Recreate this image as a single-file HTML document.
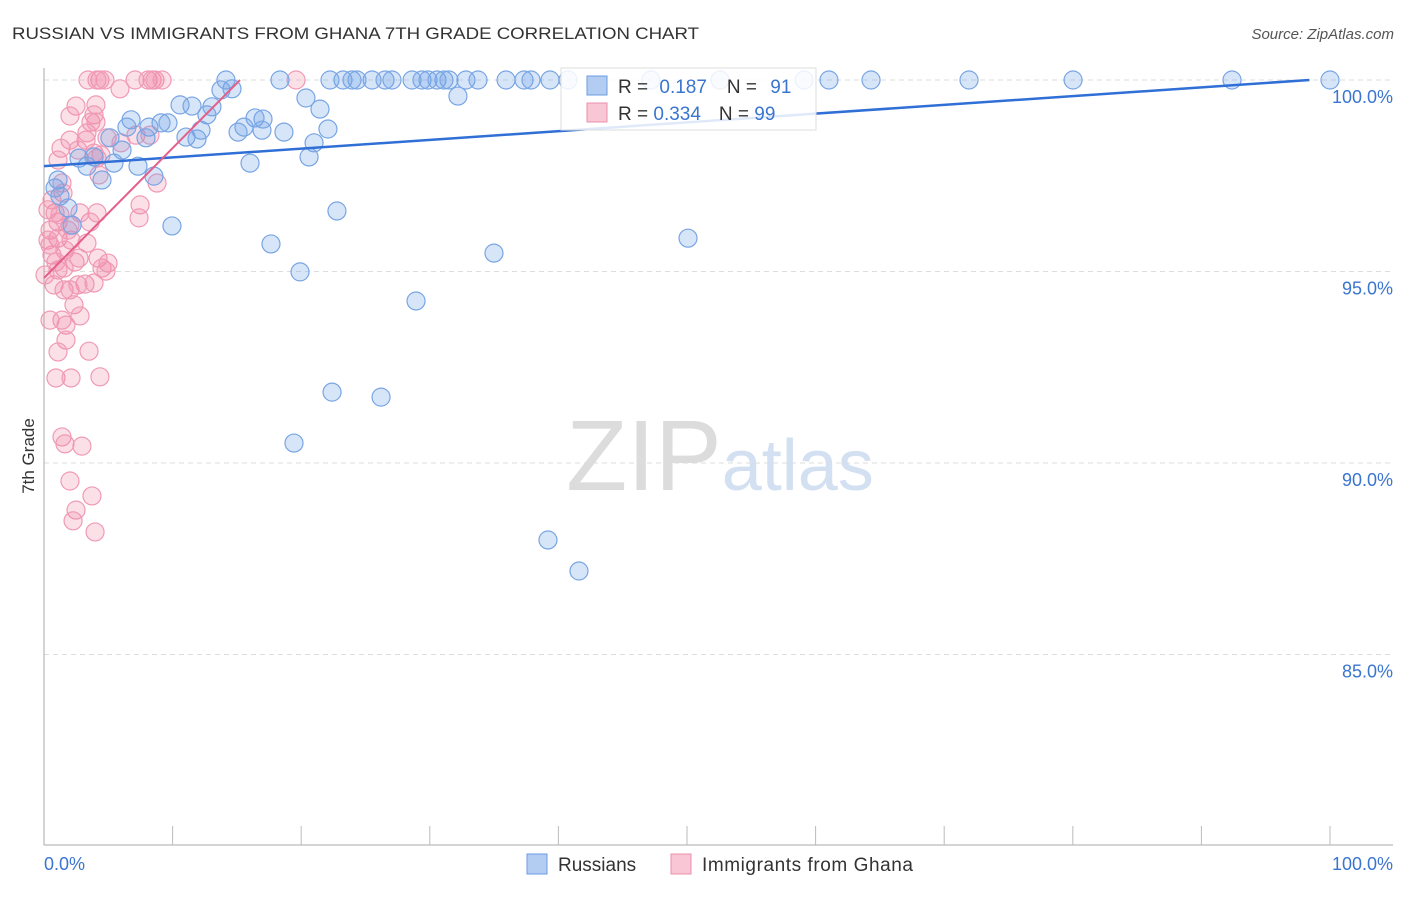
<!DOCTYPE html>
<html><head><meta charset="utf-8">
<style>
body{margin:0;background:#fff;font-family:"Liberation Sans",sans-serif;}
svg text{font-family:"Liberation Sans",sans-serif;}
</style></head>
<body>
<svg id="chart" width="1406" height="892">
<text x="12" y="39" font-size="17" fill="#333" textLength="687" lengthAdjust="spacingAndGlyphs">RUSSIAN VS IMMIGRANTS FROM GHANA 7TH GRADE CORRELATION CHART</text>
<text x="1394" y="39" font-size="15" fill="#555" font-style="italic" text-anchor="end">Source: ZipAtlas.com</text>
<text x="34" y="456" font-size="17" fill="#333" transform="rotate(-90 34 456)" text-anchor="middle">7th Grade</text>
<g id="grid"></g>
<text x="720" y="490" font-size="100" fill="#ddd" text-anchor="middle" font-family="Liberation Serif"><tspan fill="#dcdcdc">ZIP</tspan><tspan fill="#d3e0f2" font-family="Liberation Sans" font-size="72">atlas</tspan></text>
<g id="pts"></g>
<g id="lines"></g>
<g>
<rect x="561" y="68" width="255" height="62" fill="#fff" fill-opacity="0.85" stroke="#ddd"/>
<rect x="587" y="76" width="20" height="19" fill="#b3cdf2" stroke="#6b9be0"/>
<rect x="587" y="103" width="20" height="19" fill="#f9c6d5" stroke="#ec8fab"/>
<text x="618" y="93" font-size="19" fill="#333">R = <tspan fill="#3a75d0" dx="6">0.187</tspan><tspan dx="20" fill="#333">N = </tspan><tspan fill="#3a75d0" dx="8">91</tspan></text>
<text x="618" y="120" font-size="19" fill="#333">R = <tspan fill="#3a75d0">0.334</tspan><tspan dx="18" fill="#333">N = </tspan><tspan fill="#3a75d0">99</tspan></text>
</g>
<g>
<rect x="527" y="854" width="20" height="20" fill="#b3cdf2" stroke="#6b9be0"/>
<text x="558" y="871" font-size="19" fill="#333">Russians</text>
<rect x="671" y="854" width="20" height="20" fill="#f9c6d5" stroke="#ec8fab"/>
<text x="702" y="871" font-size="19" fill="#333" textLength="211">Immigrants from Ghana</text>
</g>
</svg>
<script>
const yTicks=[100,95,90,85];
const xTickLabels=["0.0%","100.0%"];
const blueX=[226,280,343,352,357,330,372,385,392,412,422,428,437,444,449,466,478,506,524,531,550,568,651,720,804,829,871,969,1073,1232,1330,221,232,458,306,180,192,212,320,207,131,161,168,127,149,263,255,244,238,262,284,328,201,186,197,146,110,314,122,94,79,309,250,114,138,87,154,102,58,55,60,68,72,337,172,271,688,494,300,416,332,381,294,548,579].map(p=>+((p-44)/12.86).toFixed(2));
const blueY=[80,80,80,80,80,80,80,80,80,80,80,80,80,80,80,80,80,80,80,80,80,80,80,80,80,80,80,80,80,80,80,90,89,96,98,105,106,107,109,115,120,123,123,127,127,119,118,127,132,130,132,129,130,137,139,138,138,143,150,157,158,157,163,163,166,166,176,180,180,188,196,208,225,211,226,244,238,253,272,301,392,397,443,540,571].map(p=>+(100-(p-80)/38.3).toFixed(2));
const pinkX=[135,148,152,155,162,100,97,105,88,296,120,96,76,70,94,91,87,96,86,70,107,61,78,94,101,121,136,150,58,97,62,99,157,63,55,58,50,58,70,97,90,80,71,87,52,65,75,140,139,64,79,98,102,108,106,58,54,64,70,85,94,78,74,62,80,50,66,66,58,89,56,71,100,62,65,82,70,92,76,73,95,52,48,48,50,56,45,60,68].map(p=>+((p-44)/12.86).toFixed(2));
const pinkY=[80,80,80,80,80,80,80,80,80,80,89,105,106,116,115,122,133,122,140,140,138,148,150,153,155,143,135,135,160,158,183,175,183,193,213,222,230,238,225,213,222,213,240,243,255,250,262,205,218,268,258,258,268,263,271,270,285,290,290,284,283,285,305,320,316,320,325,340,352,351,378,378,377,437,444,446,481,496,510,521,532,200,210,240,245,262,275,215,230].map(p=>+(100-(p-80)/38.3).toFixed(2));
const blueTrend=[97.75,100.0]; // y at x=0 and x=98.4
const pinkTrend=[94.83,100.0]; // y at x=0 and x=15.24
const X=v=>44+v*12.86, Y=v=>80+(100-v)*38.3;
const NS="http://www.w3.org/2000/svg";
function mk(t,a,parent){const e=document.createElementNS(NS,t);for(const k in a)e.setAttribute(k,a[k]);parent.appendChild(e);return e;}
const grid=document.getElementById('grid');
yTicks.forEach(t=>{
 const l=mk('line',{x1:44,x2:1393,y1:Y(t),y2:Y(t),stroke:'#ddd','stroke-dasharray':'5,4'},grid);
 
 
 const tx=mk('text',{x:1393,y:Y(t)+23,'font-size':18,fill:'#3a75d0','text-anchor':'end'},grid);
 tx.textContent=t.toFixed(1)+'%';
 
 
});
mk('line',{x1:44,x2:44,y1:68,y2:845,stroke:'#aaa'},grid);
mk('line',{x1:44,x2:1393,y1:845,y2:845,stroke:'#aaa'},grid);
for(let i=1;i<=10;i++){const t=mk('line',{x1:X(i*10),x2:X(i*10),y1:826,y2:845,stroke:'#bbb'},grid);
 
 }
const xl0=mk('text',{x:44,y:870,'font-size':18,fill:'#3a75d0'},grid);xl0.textContent=xTickLabels[0];


const xl1=mk('text',{x:1393,y:870,'font-size':18,fill:'#3a75d0','text-anchor':'end'},grid);xl1.textContent=xTickLabels[1];


const pts=document.getElementById('pts');
pinkX.forEach((x,i)=>{const c=mk('circle',{cx:X(x),cy:Y(pinkY[i]),r:9,fill:'rgba(240,130,165,0.25)',stroke:'#f09ab5','stroke-width':1.2},pts);
 
 });
blueX.forEach((x,i)=>{const c=mk('circle',{cx:X(x),cy:Y(blueY[i]),r:9,fill:'rgba(110,160,230,0.28)',stroke:'#78a5e4','stroke-width':1.2},pts);
 
 });
const lines=document.getElementById('lines');
const bl=mk('line',{x1:X(0),y1:Y(blueTrend[0]),x2:X(98.4),y2:Y(blueTrend[1]),stroke:'#2f6fd6','stroke-width':2.5},lines);


const pl=mk('line',{x1:X(0),y1:Y(pinkTrend[0]),x2:X(15.24),y2:Y(pinkTrend[1]),stroke:'#e4608a','stroke-width':2},lines);


</script>
</body></html>
